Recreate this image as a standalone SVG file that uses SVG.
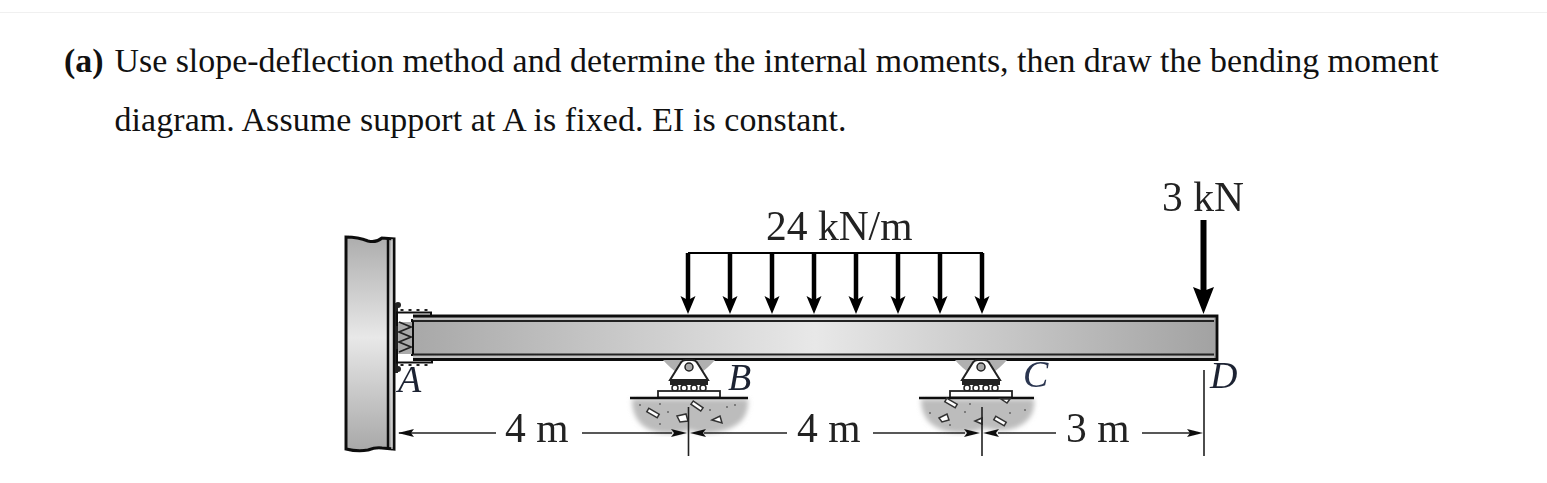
<svg xmlns="http://www.w3.org/2000/svg" width="1547" height="483" viewBox="0 0 1547 483">
<style>
text{font-family:"Liberation Serif","Times New Roman",serif;fill:#111}
.t{font-size:33.9px}
.l{font-size:41.500px;fill:#222}
.i{font-size:38px;font-style:italic;fill:#1c2433}
.d{stroke:#222;stroke-width:1.600;fill:none}
.a{stroke:#000;stroke-width:4.500;fill:none}
.stone{fill:#fff;stroke:#333;stroke-width:1.500}
.soft{filter:url(#soft)}
</style>
<defs>
<filter id="soft" x="-5%" y="-5%" width="110%" height="110%"><feGaussianBlur stdDeviation="0.5"/></filter>
<filter id="soilblur" x="-10%" y="-10%" width="120%" height="120%"><feGaussianBlur stdDeviation="2.500"/></filter>
<linearGradient id="beam" x1="0" y1="0" x2="1" y2="0">
<stop offset="0" stop-color="#a8a8a8"/><stop offset="0.5" stop-color="#e8e8e8"/><stop offset="1" stop-color="#a2a2a2"/>
</linearGradient>
<linearGradient id="wall" x1="0" y1="0" x2="0" y2="1">
<stop offset="0" stop-color="#adadad"/><stop offset="0.47" stop-color="#e8e8e8"/><stop offset="1" stop-color="#a8a8a8"/>
</linearGradient>
<path id="ah" d="M0 0L-7.500 -18L-2 -15L2 -15L7.500 -18Z" fill="#000"/>
<path id="dl" d="M0 0L16 -4L13 0L16 4Z" fill="#111"/>
<path id="dr" d="M0 0L-16 -4L-13 0L-16 4Z" fill="#111"/>
<g id="support-shape">
<path d="M-26 2Q-18 11 -10 16L-3 2ZM26 2Q18 11 10 16L3 2Z" fill="#b0b0b0"/>
<path d="M-3 2L3 2Q7 2 9 6L19 22H-19L-9 6Q-7 2 -3 2Z" fill="#fff" stroke="#222" stroke-width="2"/>
<circle cx="0" cy="9" r="4" fill="#aaa" stroke="#222" stroke-width="1.500"/>
<rect x="-19" y="22" width="38" height="5" fill="#222"/>
<g fill="#fff" stroke="#222" stroke-width="1.500"><circle cx="-14" cy="30" r="3"/><circle cx="-5" cy="30" r="3"/><circle cx="5" cy="30" r="3"/><circle cx="14" cy="30" r="3"/></g>
<rect x="-31" y="33" width="62" height="6.500" fill="#fff" stroke="#222" stroke-width="1.800"/>
</g>
</defs>
<rect width="1547" height="483" fill="#fff"/>
<path d="M0 12.500H1547" stroke="#f0f0f0" stroke-width="1"/>

<g id="problem-text">
<text class="t" x="64" y="72" font-weight="bold">(a)</text>
<text class="t" x="114.500" y="72">Use slope-deflection method and determine the internal moments, then draw the bending moment</text>
<text class="t" x="114.500" y="131" letter-spacing="0.1">diagram. Assume support at A is fixed. EI is constant.</text>
</g>

<g class="soft">
<g id="wall-A">
<path d="M346 237Q358 237 368 241Q376 243 382 238L394 239V449L382 448Q376 447 368 450Q358 452 346 449Z" fill="url(#wall)" stroke="#111" stroke-width="3"/>
<path d="M388 239V449" stroke="#111" stroke-width="2.500"/>
<path d="M392 239V449" stroke="#ddd" stroke-width="1.200"/>
<rect x="395" y="303" width="3" height="70" fill="#222"/>
<circle cx="398" cy="305" r="3" fill="#222"/><circle cx="398" cy="369" r="3" fill="#222"/>
<path d="M397 312.500H431V320H412V325H397ZM397 362.500H432V355H412V350H397Z" fill="#fff" stroke="#111" stroke-width="2"/>
<rect x="398" y="322" width="14" height="32" fill="#aaa"/>
<path d="M399 322L411 327L399 332L411 337L399 342L411 347L399 352" stroke="#222" stroke-width="1.800" fill="none"/>
<path d="M402 311v-2M410 311v-2M418 311v-2M426 311v-2M402 364v2M410 364v2M418 364v2M426 364v2" stroke="#222" stroke-width="3"/>
<text class="i" x="398" y="392">A</text>
</g>

<g id="beam-AD">
<rect x="413" y="315.500" width="804" height="44" fill="url(#beam)"/>
<path d="M413 316H1217V359.500H413" fill="none" stroke="#111" stroke-width="2.800"/>
<path d="M413 321H1214M413 354.500H1214" stroke="#222" stroke-width="2"/>
<path d="M413 318.800H1214M413 357H1214" stroke="#c8c8c8" stroke-width="1.300"/>
<path d="M413 321V354" stroke="#111" stroke-width="2"/>
</g>

<g id="support-B">
<path d="M632 399H748Q750 424 722 431Q702 436 690 430Q668 437 650 430Q632 422 632 399Z" fill="#bcbcbc" filter="url(#soilblur)"/>
<use href="#support-shape" x="689" y="358"/>
<path d="M630 398H748" stroke="#111" stroke-width="2.500"/>
<g class="stone"><rect x="647" y="411" width="12" height="4" transform="rotate(30 653 413)"/><rect x="691" y="404" width="12" height="4" transform="rotate(35 697 406)"/><path d="M677 416L686 414L688 421L680 422Z"/><path d="M712 420L720 416L722 423Z"/></g>
<g fill="#666"><circle cx="640" cy="405" r="1"/><circle cx="660" cy="404" r="1"/><circle cx="668" cy="412" r="1"/><circle cx="710" cy="410" r="1"/><circle cx="727" cy="407" r="1"/><circle cx="735" cy="405" r="1"/><circle cx="660" cy="424" r="1"/></g>
<text class="i" x="728" y="390">B</text>
</g>

<g id="support-C">
<path d="M921 399H1034Q1036 420 1015 428Q1000 433 985 428Q965 436 945 431Q921 424 921 399Z" fill="#bcbcbc" filter="url(#soilblur)"/>
<use href="#support-shape" x="981" y="358"/>
<path d="M919 398H1034" stroke="#111" stroke-width="2.500"/>
<g class="stone"><rect x="945" y="401" width="12" height="4" transform="rotate(30 951 403)"/><path d="M939 418L947 414L949 420L942 422Z"/><rect x="994" y="419" width="12" height="4" transform="rotate(30 1000 421)"/><path d="M1001 399H1010L1007 403Z"/><path d="M975 421L982 418L982 424Z"/></g>
<g fill="#666"><circle cx="930" cy="413" r="1"/><circle cx="970" cy="404" r="1"/><circle cx="965" cy="412" r="1"/><circle cx="1010" cy="413" r="1"/><circle cx="1025" cy="410" r="1"/><circle cx="950" cy="425" r="1"/></g>
<text class="i" x="1023" y="387" style="fill:#2a3550">C</text>
</g>

<g id="label-D"><text class="i" x="1210" y="388">D</text></g>

<g id="connectors">
<path stroke="#000" stroke-width="2" fill="none" d="M688 253H983"/>
<path class="a" d="M688 253V300M730 253V300M772 253V300M814 253V300M856 253V300M898 253V300M940 253V300M982 253V300"/>
<use href="#ah" x="688" y="314"/><use href="#ah" x="730" y="314"/><use href="#ah" x="772" y="314"/><use href="#ah" x="814" y="314"/><use href="#ah" x="856" y="314"/><use href="#ah" x="898" y="314"/><use href="#ah" x="940" y="314"/><use href="#ah" x="982" y="314"/>
<path d="M1203.500 220V292" stroke="#000" stroke-width="6" fill="none"/>
<path d="M1203.500 314L1193 287L1203.500 291L1214 287Z" fill="#000"/>
<path class="d" d="M399 433H496M582 433H672M704 433H787M873 433H965M998 433H1056M1142 433H1190"/>
<use href="#dl" x="398" y="433"/><use href="#dr" x="687" y="433"/><use href="#dl" x="690" y="433"/><use href="#dr" x="980" y="433"/><use href="#dl" x="983" y="433"/><use href="#dr" x="1203" y="433"/>
<path class="d" d="M688.500 407V456M982 407V456M1204 370V456"/>
</g>

<g id="loads-and-dimensions">
<text class="l" x="766" y="240">24 kN/m</text>
<text class="l" x="1162" y="211">3 kN</text>
<text class="l" x="505" y="442">4 m</text>
<text class="l" x="797" y="442">4 m</text>
<text class="l" x="1066" y="442">3 m</text>
</g>
</g>
</svg>
